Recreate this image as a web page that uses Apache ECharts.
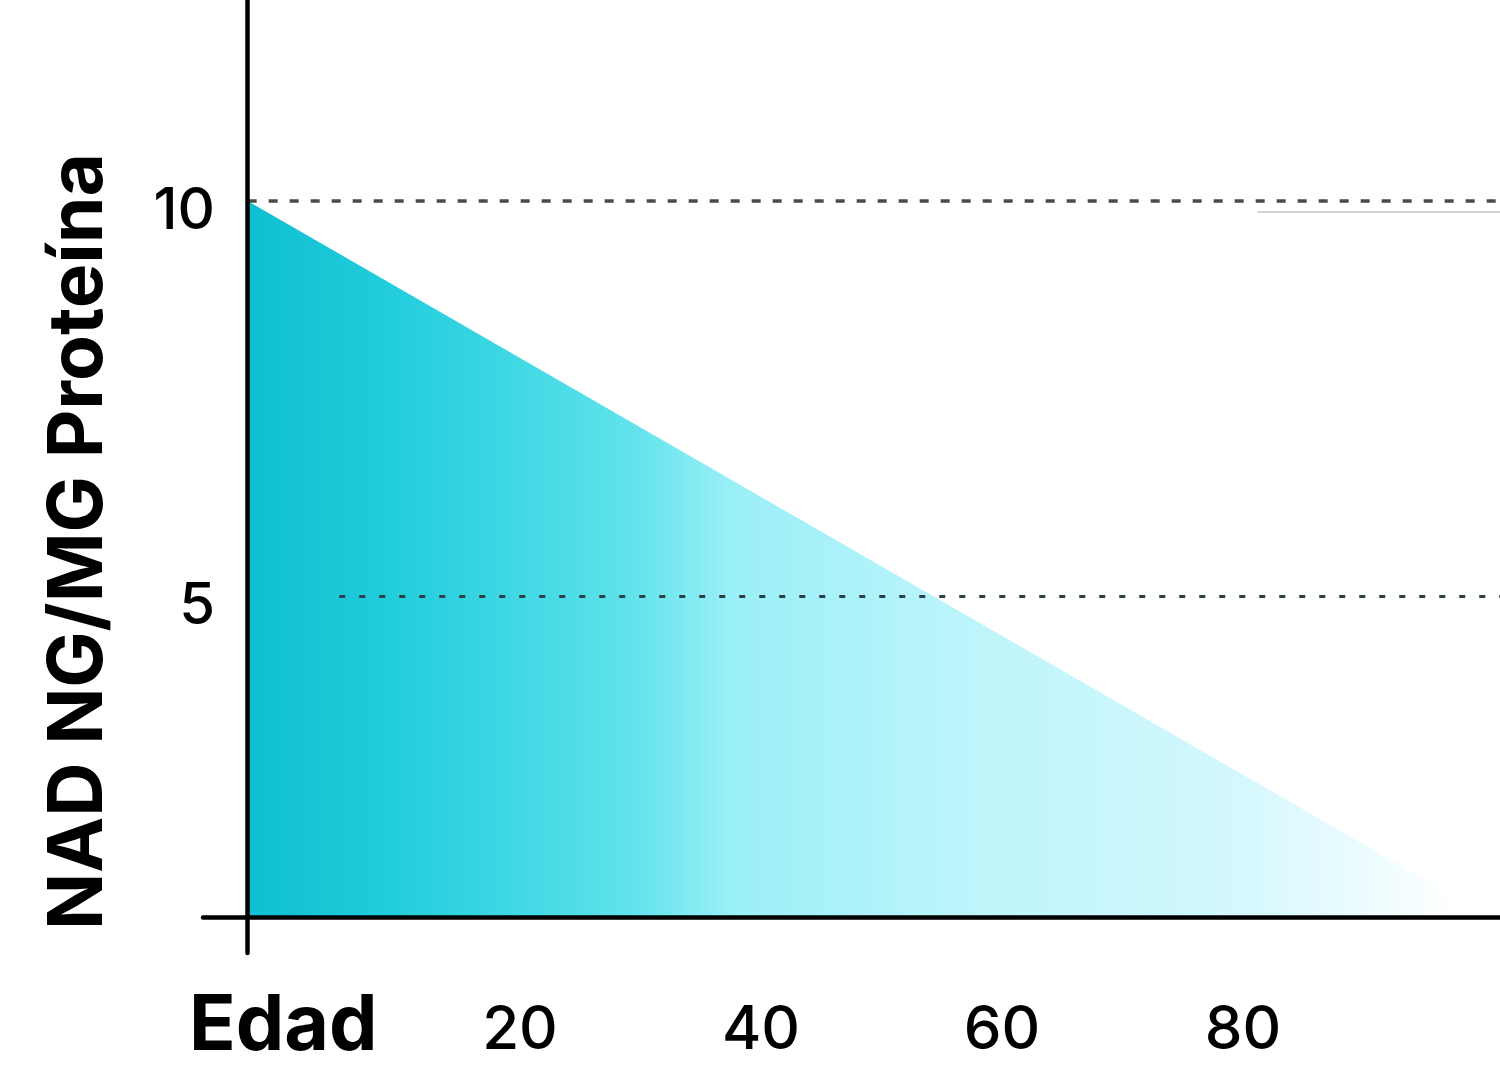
<!DOCTYPE html>
<html>
<head>
<meta charset="utf-8">
<script src="https://cdn.jsdelivr.net/npm/echarts@6/dist/echarts.min.js"></script>
<style>html,body{margin:0;padding:0;background:#fff;}#c{width:1500px;height:1078px;}</style>
</head>
<body>
<div id="c"></div>
<script>
// Data
const ages = [-2.6, 97.5];          // Edad
const nadValues = [10, 1.2];        // NAD NG/MG Proteína
const xTickLabels = [20, 40, 60, 80];
const yTickLabels = [5, 10];
const refLineValues = [10, 5];
const refLineStarts = [-2.6, 5];
const faintLine = [9.86, 81.2];
const xName = 'Edad';
const yName = 'NAD NG/MG Proteína';

const chart = echarts.init(document.getElementById('c'));
const FONT = 'Inter, "Liberation Sans", sans-serif';
chart.setOption({
  animation: false,
  backgroundColor: '#ffffff',
  title: {
    text: xName, left: 189, top: 988, padding: 0,
    textStyle: {fontFamily: FONT, fontWeight: 'bold', fontSize: 77, color: '#000'}
  },
  grid: {left: 203, right: 0, top: 0, bottom: 125},
  xAxis: {
    type: 'value', min: -6.307, max: 101.33, offset: -36, z: 5,
    axisLine: {onZero: false, lineStyle: {color: '#000', width: 4.5}},
    axisTick: {show: false},
    splitLine: {show: false},
    axisLabel: {customValues: xTickLabels, fontFamily: FONT, fontWeight: 500, fontSize: 60, color: '#000', margin: 84}
  },
  yAxis: {
    type: 'value', min: 0.481, max: 12.544, offset: -44, z: 5,
    name: yName, nameLocation: 'middle', nameRotate: 90, nameGap: 130,
    nameTextStyle: {fontFamily: FONT, fontWeight: 'bold', fontSize: 75, color: '#000', padding: [0, 130, 0, 0]},
    axisLine: {onZero: false, lineStyle: {color: '#000', width: 4.5}},
    axisTick: {show: false},
    splitLine: {show: false},
    axisLabel: {
      customValues: yTickLabels, margin: 32,
      formatter: '{a|{value}}',
      rich: {a: {fontFamily: FONT, fontWeight: 500, fontSize: 58, color: '#000', padding: [22, 0, 0, 0]}}
    }
  },
  series: [{
    type: 'line',
    z: 2,
    data: ages.map((a, i) => [a, nadValues[i]]),
    symbol: 'none',
    lineStyle: {width: 0},
    areaStyle: {
      origin: 0.937,
      opacity: 1,
      color: new echarts.graphic.LinearGradient(0, 0, 1, 0, [
        {offset: 0, color: '#0fbfd0'},
        {offset: 0.12, color: '#22cddc'},
        {offset: 0.26, color: '#4bdce7'},
        {offset: 0.32, color: '#62e3ec'},
        {offset: 0.40, color: '#9aeff7'},
        {offset: 0.6, color: '#bdf5fb'},
        {offset: 0.82, color: '#d3f8fd'},
        {offset: 0.95, color: '#f2fdff'},
        {offset: 1, color: '#ffffff'}
      ])
    },
    markLine: {
      silent: true, symbol: 'none', label: {show: false},
      data: [
        [{coord: [refLineStarts[0], refLineValues[0]], lineStyle: {type: [9, 12], width: 3.5, color: '#4a4a4a'}},
         {coord: [101.33, refLineValues[0]]}],
        [{coord: [refLineStarts[1], refLineValues[1]], lineStyle: {type: [6, 14], width: 3, color: '#2d4048'}},
         {coord: [101.33, refLineValues[1]]}],
        [{coord: [faintLine[1], faintLine[0]], lineStyle: {type: 'solid', width: 1.5, color: '#c4c4c4'}},
         {coord: [101.33, faintLine[0]]}]
      ]
    }
  }]
});
</script>
</body>
</html>
